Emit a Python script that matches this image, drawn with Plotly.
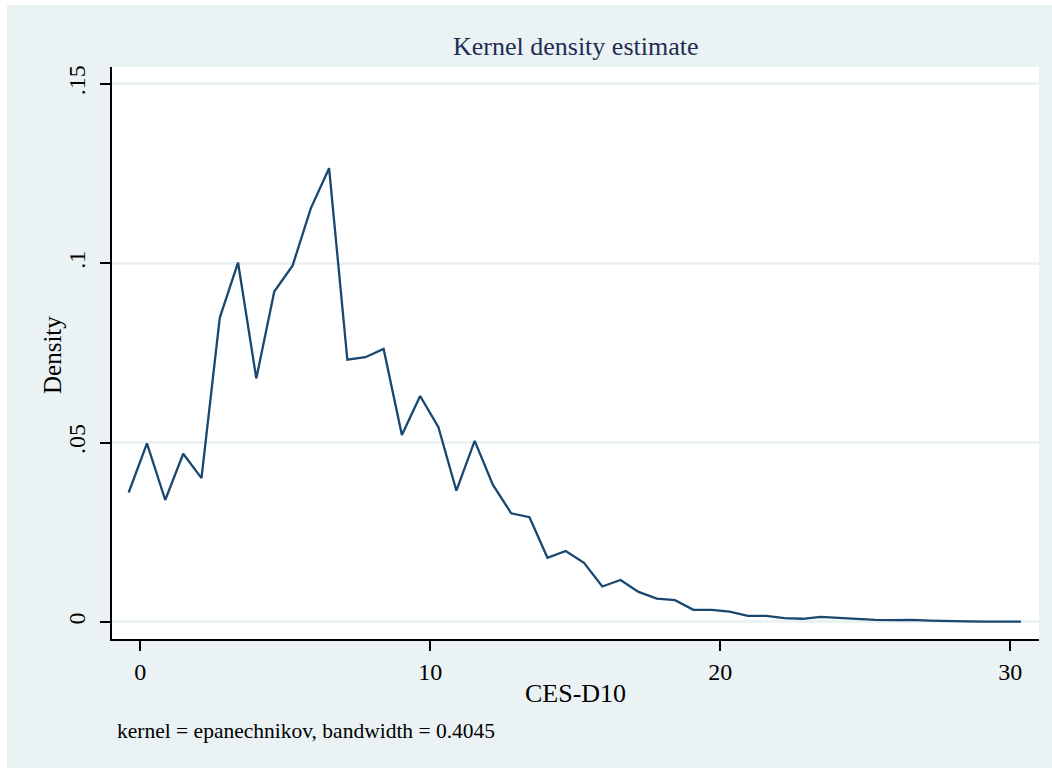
import plotly.graph_objects as go

# Kernel density estimate of CES-D10 scores (evaluation grid and density values)
ces_d10 = [
    -0.40, 0.23, 0.86, 1.48, 2.11, 2.74, 3.37, 4.00, 4.62, 5.25,
    5.88, 6.51, 7.14, 7.76, 8.39, 9.02, 9.65, 10.28, 10.90, 11.53,
    12.16, 12.79, 13.42, 14.04, 14.67, 15.30, 15.93, 16.56, 17.18, 17.81,
    18.44, 19.07, 19.70, 20.32, 20.95, 21.58, 22.21, 22.84, 23.46, 24.09,
    24.72, 25.35, 25.98, 26.60, 27.23, 27.86, 28.49, 29.12, 29.74, 30.37,
]
density = [
    0.0361, 0.0498, 0.0340, 0.0469, 0.0401, 0.0848, 0.1002, 0.0679, 0.0921, 0.0993,
    0.1153, 0.1265, 0.0731, 0.0738, 0.0761, 0.0521, 0.0630, 0.0543, 0.0366, 0.0505,
    0.0382, 0.0303, 0.0292, 0.0179, 0.0198, 0.0165, 0.0099, 0.0117, 0.0084, 0.0065,
    0.0061, 0.0034, 0.0034, 0.0029, 0.0017, 0.0017, 0.0011, 0.0009, 0.0014, 0.0011,
    0.0007, 0.0006, 0.0005, 0.0006, 0.0004, 0.0002, 0.0002, 0.0001, 0.0001, 0.0001,
]

x_ticks = [0, 10, 20, 30]
x_tick_labels = ["0", "10", "20", "30"]
y_ticks = [0, 0.05, 0.1, 0.15]
y_tick_labels = ["0", ".05", ".1", ".15"]

BG = "#eaf2f3"
LINE = "#1a476f"
FONT = "Liberation Serif"

W, H = 1052, 769
L, R, T, B = 112, 1039, 67, 639  # plot area edges in pixels


def px_to_paper_x(px):
    return (px - L) / (R - L)


def px_to_paper_y(py):
    return (B - py) / (B - T)


fig = go.Figure()
fig.add_trace(go.Scatter(
    x=ces_d10, y=density, mode="lines",
    line=dict(color=LINE, width=2.3),
    showlegend=False, hoverinfo="x+y",
))

shapes = [
    # outer light panel
    dict(type="rect", xref="paper", yref="paper", layer="below",
         x0=px_to_paper_x(7), x1=px_to_paper_x(1052),
         y0=px_to_paper_y(768), y1=px_to_paper_y(5),
         fillcolor=BG, line=dict(width=0)),
    # white plot region
    dict(type="rect", xref="paper", yref="paper", layer="below",
         x0=0, x1=1, y0=0, y1=1,
         fillcolor="white", line=dict(width=0)),
]

annotations = [
    dict(text="Kernel density estimate", xref="paper", yref="paper",
         x=0.5, y=px_to_paper_y(47), xanchor="center", yanchor="middle",
         showarrow=False, font=dict(family=FONT, size=26, color="#1e2d53")),
    dict(text="CES-D10", xref="paper", yref="paper",
         x=0.5, y=px_to_paper_y(693), xanchor="center", yanchor="middle",
         showarrow=False, font=dict(family=FONT, size=26, color="black")),
    dict(text="Density", xref="paper", yref="paper", textangle=-90,
         x=px_to_paper_x(52), y=px_to_paper_y(355), xanchor="center", yanchor="middle",
         showarrow=False, font=dict(family=FONT, size=25, color="black")),
    dict(text="kernel = epanechnikov, bandwidth = 0.4045", xref="paper", yref="paper",
         x=px_to_paper_x(115), y=px_to_paper_y(731), xanchor="left", yanchor="middle",
         showarrow=False, font=dict(family=FONT, size=21.5, color="black")),
]

fig.update_layout(
    width=W, height=H,
    margin=dict(l=L, r=W - R, t=T, b=H - B, pad=0),
    paper_bgcolor="white",
    plot_bgcolor="white",
    shapes=shapes,
    annotations=annotations,
    xaxis=dict(
        range=[-0.976, 30.99], tickvals=x_ticks, ticktext=x_tick_labels,
        showgrid=False, zeroline=False,
        showline=True, linecolor="black", linewidth=1.5,
        ticks="outside", ticklen=10, tickwidth=1.5, tickcolor="black",
        tickfont=dict(family=FONT, size=24, color="black"),
    ),
    yaxis=dict(
        range=[-0.00474, 0.1547], tickvals=y_ticks, ticktext=y_tick_labels,
        showgrid=True, gridcolor=BG, gridwidth=2.5, zeroline=False,
        showline=True, linecolor="black", linewidth=1.5,
        ticks="outside", ticklen=10, tickwidth=1.5, tickcolor="black",
        tickangle=-90, ticklabelstandoff=6,
        tickfont=dict(family=FONT, size=24, color="black"),
    ),
)

fig.write_html("out.html")
